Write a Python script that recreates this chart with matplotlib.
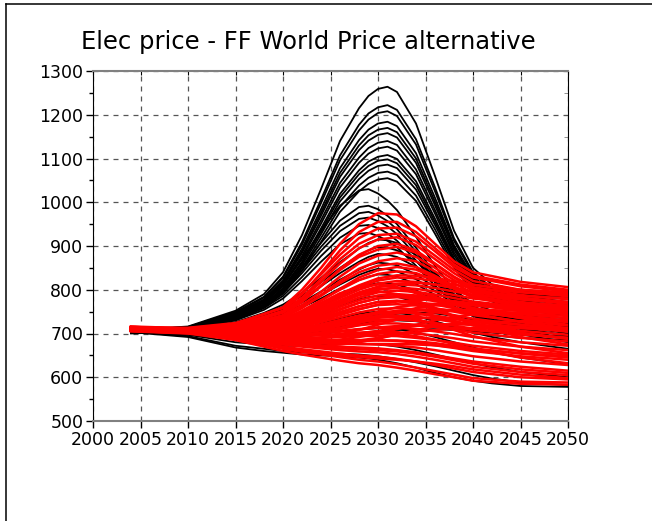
import numpy as np
import matplotlib.pyplot as plt
from matplotlib.lines import Line2D

black_years = [2004, 2010, 2015, 2018, 2020, 2022, 2024, 2026, 2028, 2029, 2030, 2031, 2032, 2034, 2036, 2038, 2040, 2042, 2045, 2050]
red_years = [2004, 2010, 2015, 2020, 2022, 2024, 2026, 2028, 2030, 2032, 2034, 2036, 2038, 2040, 2045, 2050]

# black runs
black = [
  [708, 716, 752, 790, 840, 925, 1030, 1140, 1215, 1243, 1259, 1264, 1252, 1180, 1060, 935, 850, 812, 798, 790],
  [707, 715, 749, 784, 830, 909, 1006, 1107, 1177, 1203, 1217, 1222, 1211, 1144, 1034, 918, 840, 804, 792, 784],
  [706, 714, 748, 782, 827, 903, 998, 1096, 1164, 1189, 1204, 1208, 1197, 1132, 1025, 912, 836, 802, 790, 780],
  [707, 715, 746, 778, 821, 894, 984, 1078, 1142, 1166, 1180, 1184, 1174, 1112, 1010, 902, 830, 797, 786, 772],
  [706, 713, 745, 776, 818, 888, 976, 1067, 1130, 1153, 1166, 1170, 1160, 1100, 1001, 897, 826, 795, 784, 770],
  [705, 712, 744, 775, 815, 884, 969, 1058, 1119, 1141, 1154, 1158, 1148, 1090, 993, 892, 823, 792, 780, 765],
  [706, 713, 743, 772, 811, 877, 959, 1044, 1102, 1124, 1136, 1140, 1131, 1075, 982, 885, 819, 789, 776, 760],
  [705, 712, 742, 770, 808, 872, 951, 1034, 1090, 1111, 1123, 1127, 1118, 1064, 974, 879, 816, 787, 772, 756],
  [704, 711, 740, 767, 804, 864, 940, 1019, 1073, 1093, 1104, 1108, 1099, 1048, 962, 872, 811, 783, 768, 752],
  [705, 712, 739, 766, 801, 861, 934, 1011, 1064, 1083, 1095, 1098, 1089, 1039, 955, 868, 808, 781, 765, 748],
  [704, 711, 739, 764, 798, 856, 927, 1002, 1053, 1072, 1083, 1086, 1078, 1029, 948, 863, 805, 779, 762, 745],
  [703, 710, 737, 762, 795, 850, 918, 989, 1038, 1056, 1067, 1070, 1062, 1015, 938, 856, 801, 776, 758, 742],
  [704, 711, 736, 760, 791, 844, 909, 978, 1025, 1042, 1052, 1055, 1047, 1003, 928, 850, 797, 773, 755, 740],
  [704, 711, 739, 774, 812, 870, 934, 992, 1027, 1030, 1020, 1004, 982, 921, 854, 800, 768, 752, 742, 735],
  [703, 710, 735, 766, 800, 851, 907, 958, 989, 992, 984, 969, 950, 896, 837, 789, 761, 747, 738, 730],
  [704, 711, 734, 764, 796, 844, 898, 946, 975, 978, 970, 957, 938, 887, 831, 785, 758, 745, 736, 728],
  [703, 710, 733, 761, 792, 838, 889, 934, 962, 965, 957, 945, 927, 878, 825, 781, 756, 743, 734, 725],
  [702, 709, 731, 758, 786, 829, 877, 919, 946, 948, 941, 929, 912, 867, 817, 777, 753, 741, 732, 722],
  [703, 710, 730, 754, 780, 820, 864, 904, 928, 930, 923, 912, 897, 855, 809, 772, 750, 739, 730, 720],
  [702, 708, 726, 747, 766, 793, 827, 863, 894, 907, 915, 913, 907, 879, 839, 797, 762, 741, 728, 715],
  [701, 707, 724, 744, 761, 786, 817, 850, 879, 890, 898, 896, 890, 865, 829, 790, 757, 738, 724, 710],
  [702, 707, 723, 740, 756, 779, 808, 838, 864, 875, 882, 880, 875, 852, 818, 783, 753, 735, 720, 705],
  [701, 706, 721, 736, 751, 771, 796, 823, 846, 856, 862, 860, 856, 835, 805, 774, 747, 732, 716, 700],
  [700, 705, 719, 734, 746, 765, 788, 812, 834, 842, 848, 847, 842, 824, 797, 768, 744, 729, 710, 695],
  [701, 705, 718, 731, 743, 760, 780, 803, 822, 830, 835, 834, 830, 813, 788, 762, 740, 727, 705, 690],
  [703, 692, 668, 660, 656, 652, 650, 648, 645, 643, 640, 636, 632, 622, 610, 600, 592, 586, 580, 578],
  [704, 694, 672, 665, 660, 657, 655, 654, 652, 650, 648, 645, 642, 634, 625, 615, 605, 597, 588, 582],
  [705, 697, 680, 675, 672, 672, 674, 676, 677, 676, 675, 673, 670, 662, 652, 642, 632, 623, 612, 600],
  [706, 700, 690, 688, 688, 692, 698, 705, 710, 711, 712, 711, 710, 703, 692, 680, 668, 657, 645, 630],
  [707, 703, 698, 699, 702, 710, 722, 735, 745, 748, 750, 749, 748, 740, 728, 715, 702, 692, 680, 665],
  [706, 702, 700, 703, 708, 722, 742, 762, 778, 783, 786, 785, 784, 772, 755, 738, 722, 710, 698, 680],
  [707, 704, 705, 710, 718, 735, 760, 785, 805, 811, 815, 814, 812, 798, 778, 758, 740, 726, 712, 695],
  [705, 700, 695, 696, 698, 705, 716, 728, 738, 740, 742, 741, 740, 732, 722, 712, 702, 696, 690, 685],
  [706, 701, 692, 690, 690, 694, 702, 712, 722, 725, 728, 729, 730, 728, 722, 715, 708, 703, 698, 692],
  [704, 698, 688, 685, 684, 686, 690, 695, 700, 703, 705, 707, 708, 710, 710, 708, 705, 702, 698, 692],
  [705, 699, 690, 689, 690, 696, 705, 716, 728, 733, 738, 742, 745, 748, 746, 740, 732, 725, 718, 705],
]

# red runs
red = [
  [712, 712, 722, 760, 800, 850, 905, 950, 975, 972, 945, 905, 865, 840, 818, 806],
  [710, 710, 718, 752, 790, 838, 890, 932, 955, 955, 932, 895, 858, 832, 812, 800],
  [713, 713, 724, 758, 792, 835, 880, 918, 940, 942, 922, 888, 852, 828, 808, 796],
  [709, 708, 716, 748, 782, 825, 870, 905, 925, 928, 910, 878, 845, 820, 800, 790],
  [711, 710, 719, 750, 780, 818, 860, 895, 915, 920, 902, 870, 838, 812, 795, 785],
  [708, 707, 714, 742, 772, 808, 848, 880, 900, 905, 890, 860, 830, 806, 788, 778],
  [712, 711, 720, 748, 775, 810, 845, 875, 892, 898, 885, 858, 828, 802, 782, 772],
  [710, 709, 715, 740, 765, 795, 830, 860, 878, 885, 875, 850, 822, 798, 778, 768],
  [709, 707, 712, 735, 758, 788, 820, 848, 865, 872, 865, 842, 815, 792, 772, 762],
  [711, 709, 714, 738, 760, 786, 815, 840, 855, 860, 852, 832, 808, 786, 768, 758],
  [708, 706, 710, 730, 750, 775, 802, 828, 845, 852, 846, 828, 806, 786, 766, 755],
  [710, 708, 711, 732, 752, 776, 800, 822, 836, 842, 838, 822, 802, 782, 762, 750],
  [705, 700, 685, 660, 652, 645, 638, 632, 628, 622, 615, 607, 600, 592, 585, 583],
  [706, 701, 688, 665, 658, 652, 646, 640, 636, 630, 622, 614, 606, 598, 590, 588],
  [707, 702, 690, 670, 664, 659, 654, 650, 647, 642, 636, 628, 620, 612, 600, 595],
  [708, 703, 692, 675, 670, 666, 662, 659, 657, 653, 647, 640, 632, 624, 612, 605],
  [706, 702, 693, 680, 676, 673, 670, 668, 666, 662, 657, 650, 643, 636, 624, 615],
  [709, 704, 695, 684, 681, 679, 677, 676, 675, 672, 668, 662, 655, 648, 636, 628],
  [707, 703, 696, 688, 686, 685, 685, 685, 685, 683, 679, 673, 667, 660, 648, 640],
  [710, 705, 698, 690, 689, 690, 692, 694, 695, 694, 690, 685, 679, 672, 660, 652],
  [708, 704, 699, 694, 694, 696, 699, 702, 704, 703, 700, 695, 689, 682, 670, 662],
  [711, 706, 701, 697, 698, 701, 706, 710, 713, 713, 710, 705, 699, 692, 680, 672],
  [709, 705, 702, 700, 702, 707, 713, 719, 723, 723, 720, 715, 709, 702, 690, 682],
  [712, 707, 704, 703, 706, 712, 719, 726, 731, 732, 729, 724, 718, 711, 698, 690],
  [710, 706, 705, 706, 710, 717, 725, 734, 740, 741, 738, 733, 726, 719, 706, 697],
  [713, 708, 706, 708, 713, 721, 731, 741, 748, 750, 747, 741, 734, 727, 713, 704],
  [711, 707, 707, 710, 716, 726, 737, 748, 756, 758, 755, 749, 742, 734, 720, 710],
  [714, 709, 708, 712, 720, 731, 744, 756, 765, 767, 764, 758, 750, 742, 728, 718],
  [712, 708, 709, 714, 723, 735, 749, 762, 772, 775, 772, 766, 758, 750, 736, 726],
  [715, 710, 710, 716, 726, 740, 756, 770, 780, 783, 780, 774, 766, 758, 744, 735],
  [713, 709, 711, 718, 729, 744, 761, 776, 787, 790, 787, 781, 773, 765, 752, 744],
  [714, 710, 712, 720, 732, 748, 766, 782, 794, 798, 795, 789, 781, 773, 761, 754],
  [712, 709, 713, 722, 735, 752, 771, 788, 800, 805, 802, 796, 788, 780, 770, 764],
  [715, 711, 714, 724, 738, 756, 776, 794, 807, 812, 810, 804, 796, 788, 778, 772],
  [713, 710, 715, 726, 741, 760, 781, 800, 814, 820, 818, 812, 804, 796, 786, 780],
  [716, 712, 716, 728, 744, 764, 786, 806, 821, 828, 826, 820, 812, 804, 794, 788],
  [714, 711, 716, 730, 747, 768, 790, 810, 826, 833, 832, 827, 819, 811, 800, 794],
  [707, 702, 690, 675, 672, 672, 675, 680, 688, 698, 708, 716, 722, 726, 728, 728],
  [710, 705, 695, 685, 686, 690, 698, 708, 720, 732, 742, 748, 752, 754, 752, 750],
  [712, 707, 700, 698, 703, 712, 724, 738, 750, 760, 766, 768, 768, 766, 762, 760],
  [708, 703, 694, 682, 680, 682, 686, 692, 700, 710, 720, 730, 738, 744, 748, 748],
  [714, 710, 712, 725, 745, 770, 792, 806, 812, 806, 792, 776, 760, 746, 726, 712],
  [711, 707, 706, 712, 726, 748, 770, 788, 796, 790, 776, 758, 740, 724, 702, 688],
  [709, 704, 698, 692, 695, 702, 712, 724, 736, 748, 758, 764, 766, 764, 756, 748],
  [713, 709, 710, 718, 732, 752, 772, 790, 802, 804, 796, 784, 770, 758, 740, 728],
  [706, 701, 689, 668, 661, 655, 650, 646, 643, 640, 636, 631, 625, 618, 606, 598],
  [709, 704, 694, 678, 673, 669, 666, 664, 662, 659, 654, 647, 639, 631, 618, 610],
  [707, 703, 697, 690, 689, 690, 693, 697, 700, 699, 694, 686, 676, 665, 645, 632],
  [711, 706, 702, 700, 703, 709, 718, 728, 736, 738, 733, 722, 708, 694, 670, 655],
  [713, 708, 707, 712, 720, 733, 748, 762, 772, 774, 768, 755, 738, 720, 692, 675],
  [710, 706, 704, 704, 708, 716, 727, 738, 746, 749, 746, 739, 729, 719, 700, 688],
  [712, 708, 708, 714, 724, 738, 754, 770, 781, 786, 784, 777, 766, 755, 735, 720],
  [708, 704, 699, 695, 697, 702, 710, 719, 727, 733, 736, 736, 733, 729, 720, 712],
  [715, 711, 713, 722, 736, 754, 774, 792, 806, 814, 816, 812, 804, 795, 780, 770],
  [711, 707, 705, 705, 708, 714, 722, 731, 740, 747, 752, 754, 754, 752, 746, 740],
  [706, 702, 692, 680, 678, 678, 680, 684, 690, 697, 703, 708, 711, 713, 712, 708],
  [709, 705, 698, 690, 689, 691, 695, 700, 706, 712, 717, 720, 721, 720, 715, 708],
  [712, 708, 706, 707, 711, 718, 727, 737, 746, 752, 755, 755, 752, 748, 738, 730],
  [707, 703, 696, 686, 683, 682, 682, 683, 684, 684, 682, 678, 672, 666, 654, 645],
  [713, 709, 709, 713, 720, 730, 742, 755, 766, 773, 777, 777, 774, 769, 758, 748],
  [710, 706, 702, 698, 698, 700, 704, 709, 714, 717, 718, 717, 713, 708, 698, 690],
  [708, 704, 697, 686, 682, 679, 677, 676, 676, 676, 675, 673, 669, 664, 655, 648],
]

xticks = list(range(2000, 2051, 5))
yticks = list(range(500, 1301, 100))
yminor = list(range(550, 1300, 100))

fig = plt.figure(figsize=(6.52, 5.21), dpi=100)
ax = fig.add_axes([93 / 652, 1 - 421 / 521, 475 / 652, 350 / 521])

for run in black:
  ax.plot(black_years, run, color='black', lw=1.3, zorder=2)
for run in red:
  ax.plot(red_years, run, color='red', lw=1.8, zorder=3)

ax.set_xlim(2000, 2050)
ax.set_ylim(500, 1300)
ax.set_xticks(xticks)
ax.set_yticks(yticks)
ax.set_yticks(yminor, minor=True)
ax.tick_params(axis='both', labelsize=12.5, direction='out', length=5, width=1, pad=2)
ax.tick_params(axis='y', which='minor', direction='out', length=3, width=1)
ax.grid(True, linestyle=(0, (4, 4)), color='#555555', linewidth=0.9, zorder=0)
ax.set_axisbelow(True)

ax.spines['bottom'].set_color('#808080')
ax.spines['bottom'].set_linewidth(1.5)
ax.spines['top'].set_color('#808080')
ax.spines['top'].set_linewidth(1.5)
ax.spines['left'].set_color('black')
ax.spines['right'].set_color('black')

top = ax.secondary_xaxis('top')
top.set_xticks(xticks)
top.tick_params(direction='in', length=3, labeltop=False)
top.spines['top'].set_visible(False)
right = ax.secondary_yaxis('right')
right.set_yticks(yticks)
right.set_yticks(yminor, minor=True)
right.tick_params(which='both', direction='in', length=3, labelright=False, color='#808080')
right.spines['right'].set_visible(False)

fig.text(308 / 652, 1 - 42 / 521, 'Elec price - FF World Price alternative', fontsize=17.5,
         ha='center', va='center')

fig.add_artist(Line2D([6 / 652, 1], [1 - 4 / 521, 1 - 4 / 521], color='black', lw=1.1))
fig.add_artist(Line2D([6 / 652, 6 / 652], [0, 1 - 4 / 521], color='black', lw=1.1))

fig.savefig('out.png', dpi=100)
